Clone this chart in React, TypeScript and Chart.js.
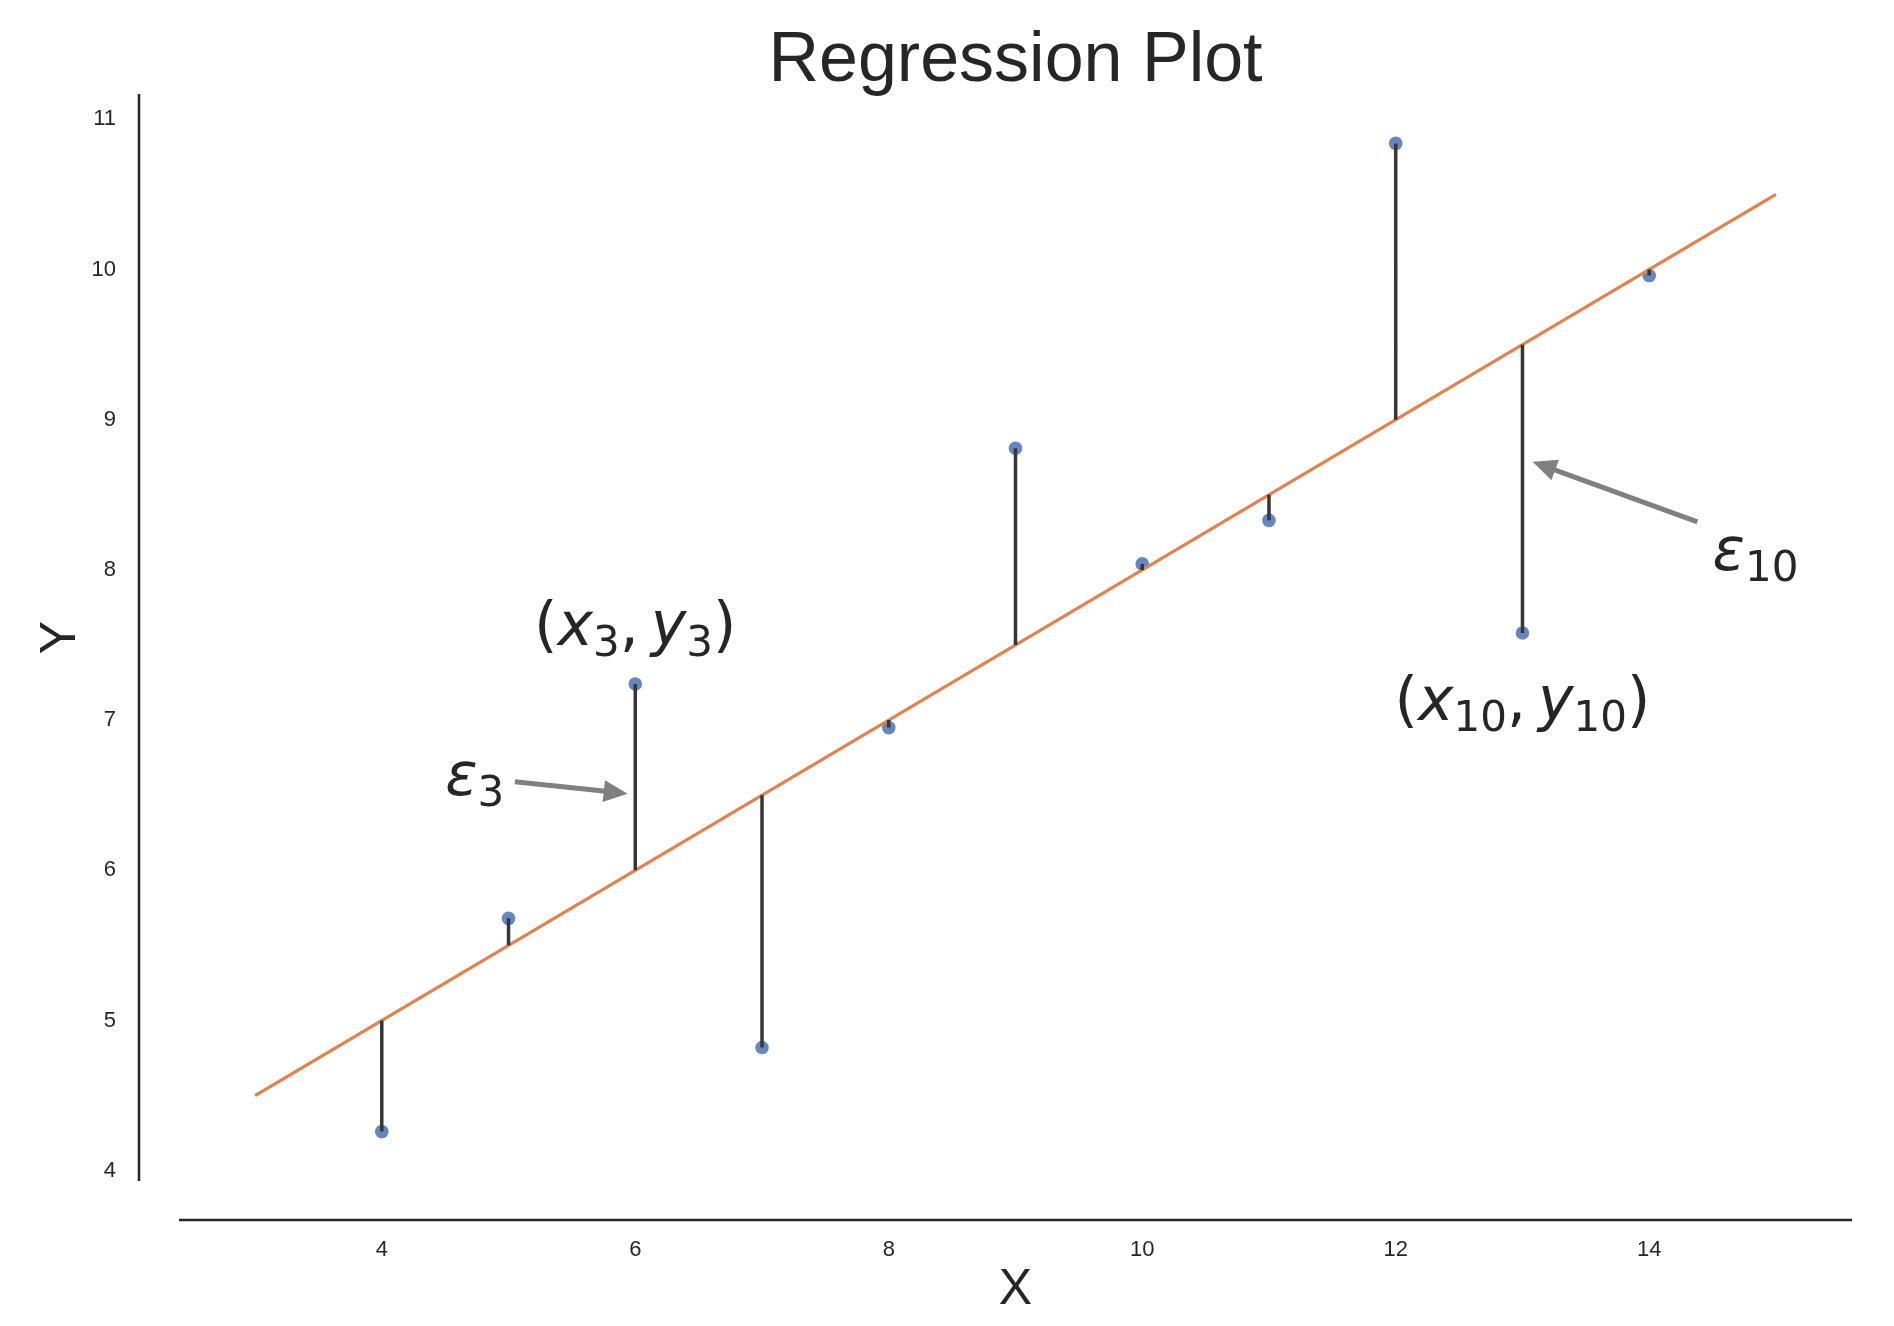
import React, { useEffect, useRef } from 'react';
import { Chart, registerables } from 'chart.js';

Chart.register(...registerables);

// ---- data ----
const xValues = [4, 5, 6, 7, 8, 9, 10, 11, 12, 13, 14];
const yValues = [4.26, 5.68, 7.24, 4.82, 6.95, 8.81, 8.04, 8.33, 10.84, 7.58, 9.96];
const fittedValues = [5.0, 5.5, 6.0, 6.5, 7.0, 7.5, 8.0, 8.5, 9.0, 9.5, 10.0];
const regLineX = [3, 15];
const regLineY = [4.5, 10.5];
const xTicks = [4, 6, 8, 10, 12, 14];
const yTicks = [4, 5, 6, 7, 8, 9, 10, 11];
const xRange = [2.4, 15.6];
const yRange = [3.931, 11.169];

// annotation texts (runs: text, kind r=roman i=italic s=subscript p=punctuation)
const pointLabel3 = [['(', 'r'], ['x', 'i'], ['3', 's'], [',', 'p'], ['y', 'i'], ['3', 's'], [')', 'r']];
const pointLabel10 = [['(', 'r'], ['x', 'i'], ['10', 's'], [',', 'p'], ['y', 'i'], ['10', 's'], [')', 'r']];
const errLabel3 = [['ε', 'i'], ['3', 's']];
const errLabel10 = [['ε', 'i'], ['10', 's']];
const labelAnchorsX = [6, 13, 4.5, 14.5];
const labelAnchorsY = [7.5, 7.0, 6.5, 8.0];
const labelAligns = ['center', 'center', 'left', 'left'];
const arrowTailX = [5.05, 14.38];
const arrowTailY = [6.59, 8.32];
const arrowTipX = [5.94, 13.08];
const arrowTipY = [6.51, 8.72];

const TEXT = '#262626';
const SANS = '"Liberation Sans", Arial, Helvetica, sans-serif';
const MATH = '"DejaVu Sans", sans-serif';

function drawMath(ctx: CanvasRenderingContext2D, runs: string[][], px: number, py: number, align: string, size: number) {
  const sub = size * 0.7;
  const fontFor = (k: string) =>
    k === 'i' ? `italic ${size}px ${MATH}` : k === 's' ? `${sub}px ${MATH}` : `${size}px ${MATH}`;
  const widths = runs.map(([t, k]) => {
    ctx.font = fontFor(k);
    return ctx.measureText(t).width + (k === 'p' ? size * 0.2 : 0);
  });
  const total = widths.reduce((a, b) => a + b, 0);
  let cx = align === 'center' ? px - total / 2 : px;
  ctx.textAlign = 'left';
  ctx.textBaseline = 'alphabetic';
  ctx.fillStyle = TEXT;
  runs.forEach(([t, k], i) => {
    ctx.font = fontFor(k);
    ctx.fillText(t, cx, k === 's' ? py + size * 0.18 : py);
    cx += widths[i];
  });
}

function drawArrow(ctx: CanvasRenderingContext2D, x0: number, y0: number, x1: number, y1: number) {
  const ang = Math.atan2(y1 - y0, x1 - x0);
  const headLen = 24;
  const headHalf = 11;
  const bx = x1 - headLen * Math.cos(ang);
  const by = y1 - headLen * Math.sin(ang);
  ctx.strokeStyle = '#808080';
  ctx.fillStyle = '#808080';
  ctx.lineWidth = 5;
  ctx.lineCap = 'butt';
  ctx.beginPath();
  ctx.moveTo(x0, y0);
  ctx.lineTo(bx + Math.cos(ang) * 2, by + Math.sin(ang) * 2);
  ctx.stroke();
  ctx.beginPath();
  ctx.moveTo(x1, y1);
  ctx.lineTo(bx + headHalf * Math.sin(ang), by - headHalf * Math.cos(ang));
  ctx.lineTo(bx - headHalf * Math.sin(ang), by + headHalf * Math.cos(ang));
  ctx.closePath();
  ctx.fill();
}

const overlayPlugin = {
  id: 'overlay',
  afterDraw(chart: any) {
    const { ctx, chartArea } = chart;
    const xs = chart.scales.x;
    const ys = chart.scales.y;
    ctx.save();
    // offset spines
    ctx.strokeStyle = TEXT;
    ctx.lineWidth = 2.5;
    ctx.lineCap = 'butt';
    ctx.beginPath();
    ctx.moveTo(chartArea.left - 40, chartArea.top);
    ctx.lineTo(chartArea.left - 40, chartArea.bottom);
    ctx.stroke();
    ctx.beginPath();
    ctx.moveTo(chartArea.left, chartArea.bottom + 39);
    ctx.lineTo(chartArea.right, chartArea.bottom + 39);
    ctx.stroke();
    // arrows
    for (let i = 0; i < arrowTailX.length; i++) {
      drawArrow(
        ctx,
        xs.getPixelForValue(arrowTailX[i]),
        ys.getPixelForValue(arrowTailY[i]),
        xs.getPixelForValue(arrowTipX[i]),
        ys.getPixelForValue(arrowTipY[i])
      );
    }
    // labels
    const labels = [pointLabel3, pointLabel10, errLabel3, errLabel10];
    labels.forEach((runs, i) => {
      drawMath(
        ctx,
        runs,
        xs.getPixelForValue(labelAnchorsX[i]),
        ys.getPixelForValue(labelAnchorsY[i]),
        labelAligns[i],
        60
      );
    });
    ctx.restore();
  },
};

export default function App() {
  const canvasRef = useRef<HTMLCanvasElement | null>(null);

  useEffect(() => {
    const canvas = canvasRef.current;
    if (!canvas) return;

    const residualData: any[] = [];
    xValues.forEach((xv, i) => {
      residualData.push({ x: xv, y: fittedValues[i] });
      residualData.push({ x: xv, y: yValues[i] });
      residualData.push({ x: xv, y: null });
    });

    const chart = new Chart(canvas, {
      type: 'scatter',
      data: {
        datasets: [
          {
            label: 'Residuals',
            data: residualData,
            showLine: true,
            spanGaps: false,
            borderColor: '#363636',
            borderWidth: 3.5,
            pointRadius: 0,
            pointHoverRadius: 0,
          } as any,
          {
            label: 'Regression line',
            data: regLineX.map((xv, i) => ({ x: xv, y: regLineY[i] })),
            showLine: true,
            borderColor: '#dd8452',
            borderWidth: 3.2,
            pointRadius: 0,
            pointHoverRadius: 0,
          } as any,
          {
            label: 'Observations',
            data: xValues.map((xv, i) => ({ x: xv, y: yValues[i] })),
            backgroundColor: 'rgba(76,114,176,0.85)',
            pointBackgroundColor: 'rgba(76,114,176,0.85)',
            pointBorderWidth: 0,
            pointRadius: 6.8,
          } as any,
        ],
      },
      options: {
        responsive: false,
        animation: false,
        devicePixelRatio: 1,
        layout: { padding: { top: 0, left: 0, right: 34, bottom: 0 } },
        plugins: {
          legend: { display: false },
          tooltip: { enabled: false },
          title: {
            display: true,
            text: 'Regression Plot',
            color: TEXT,
            fullSize: false,
            font: { family: SANS, size: 70, weight: 'normal', lineHeight: 1.0 },
            padding: { top: 18.5, bottom: -2.5 },
          },
        },
        scales: {
          x: {
            type: 'linear',
            min: xRange[0],
            max: xRange[1],
            afterBuildTicks: (s: any) => {
              s.ticks = xTicks.map((v) => ({ value: v }));
            },
            afterFit: (s: any) => {
              s.height = 143;
            },
            grid: { display: false, drawTicks: false },
            border: { display: false },
            ticks: { color: TEXT, padding: 56, font: { family: SANS, size: 22 }, autoSkip: false, maxRotation: 0 },
            title: {
              display: true,
              text: 'X',
              color: TEXT,
              font: { family: SANS, size: 50, lineHeight: 1.2 },
              padding: { top: 0, bottom: 4 },
            },
          },
          y: {
            type: 'linear',
            min: yRange[0],
            max: yRange[1],
            afterBuildTicks: (s: any) => {
              s.ticks = yTicks.map((v) => ({ value: v }));
            },
            afterFit: (s: any) => {
              s.width = 171;
            },
            grid: { display: false, drawTicks: false },
            border: { display: false },
            ticks: { color: TEXT, padding: 63, font: { family: SANS, size: 22 }, autoSkip: false },
            title: {
              display: true,
              text: 'Y',
              color: TEXT,
              font: { family: SANS, size: 50, lineHeight: 1.2 },
              padding: { top: 23, bottom: 0 },
            },
          },
        },
      } as any,
      plugins: [overlayPlugin],
    });

    return () => {
      chart.destroy();
    };
  }, []);

  return (
    <div style={{ width: 1878, height: 1316 }}>
      <canvas ref={canvasRef} width={1878} height={1316} style={{ display: 'block' }} />
    </div>
  );
}
